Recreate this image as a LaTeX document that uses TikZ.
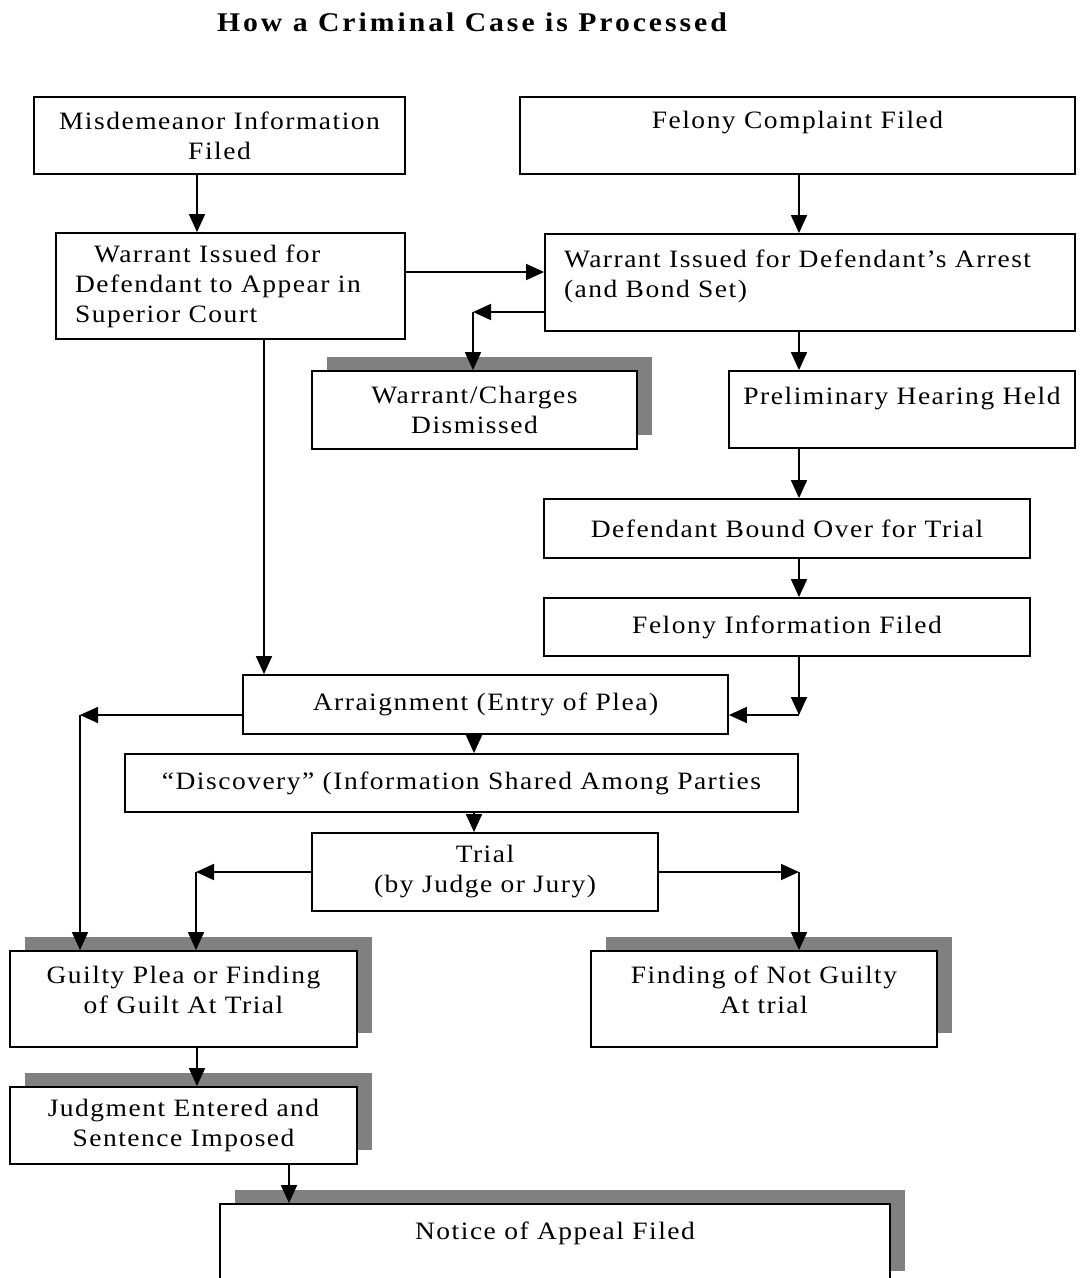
\documentclass[tikz,border=0pt]{standalone}
\usepackage{fontspec}
\setmainfont{Liberation Serif}[FakeStretch=1.1,LetterSpace=6]
\usetikzlibrary{arrows.meta,shadows}

\begin{document}
\begin{tikzpicture}[x=1pt,y=-1pt,
    box/.style={draw,line width=1.8pt,fill=white,align=center,inner sep=0pt,
      font=\fontsize{25}{30}\selectfont},
    shbox/.style={box,drop shadow={shadow xshift=15pt,shadow yshift=14pt,
      fill=black!50,opacity=1}},
    arr/.style={line width=1.7pt,-{Triangle[length=18pt,width=16pt]}}]
      \useasboundingbox (0,0) rectangle (1092,1278);
      \clip (0,0) rectangle (1092,1278);
%
      \node (ttl) at (472,22) {\bfseries\fontsize{27}{32}\selectfont\addfontfeature{LetterSpace=11}How a Criminal Case is Processed};
%
      \node[box,minimum width=371pt,minimum height=77pt] (mif) at (219.5,135.5) {Misdemeanor Information\\Filed};
      \node[box,minimum width=555pt,minimum height=77pt,text height=16pt,text depth=30pt] (fcf) at (797.5,135.5) {Felony Complaint Filed};
      \node[box,minimum width=349pt,minimum height=106pt,text width=311pt,align=left] (wda) at (230.5,286) {\hspace*{19pt}Warrant Issued for\\Defendant to Appear in\\Superior Court};
      \node[box,minimum width=530pt,minimum height=97pt,text width=492pt,align=left,text depth=48pt] (wia) at (810,282.5) {Warrant Issued for Defendant’s Arrest\\(and Bond Set)};
      \node[shbox,minimum width=325pt,minimum height=78pt] (wcd) at (474.5,410) {Warrant/Charges\\Dismissed};
      \node[box,minimum width=346pt,minimum height=77pt,text height=16pt,text depth=27pt] (phh) at (902,409.5) {Preliminary Hearing Held};
      \node[box,minimum width=486pt,minimum height=59pt] (dbt) at (787,528.5) {Defendant Bound Over for Trial};
      \node[box,minimum width=486pt,minimum height=58pt] (fif) at (787,627) {Felony Information Filed};
      \node[box,minimum width=485pt,minimum height=59pt] (arg) at (485.5,704.5) {Arraignment (Entry of Plea)};
      \node[box,minimum width=673pt,minimum height=58pt] (dsc) at (461.5,783) {“Discovery” (Information Shared Among Parties};
      \node[box,minimum width=346pt,minimum height=78pt] (trl) at (485,872) {Trial\\(by Judge or Jury)};
      \node[shbox,minimum width=347pt,minimum height=96pt,text depth=18pt] (gpf) at (183.5,999) {Guilty Plea or Finding\\of Guilt At Trial};
      \node[shbox,minimum width=346pt,minimum height=96pt,text depth=18pt] (ngf) at (764,999) {Finding of Not Guilty\\At trial};
      \node[shbox,minimum width=347pt,minimum height=77pt] (jes) at (183.5,1125.5) {Judgment Entered and\\Sentence Imposed};
      \node[shbox,minimum width=670pt,minimum height=81pt,text height=16pt,text depth=27pt] (nap) at (555,1244.5) {Notice of Appeal Filed};
%
      \coordinate (k1) at (197,0);%%
      \coordinate (k2) at (799,0);%%
      \coordinate (k3) at (264,0);%%
      \coordinate (k4) at (474,0);%%
      \coordinate (k5) at (289,0);%%
      \coordinate (k6) at (0,272);%%
      \coordinate (c1) at (473,312);%%
      \coordinate (c2) at (799,715);%%
      \coordinate (c3) at (80,715);%%
      \coordinate (c4) at (196,872);%%
      \coordinate (c5) at (799,872);%%
%
      \draw[arr] (mif.south -| k1) -- (wda.north -| k1);
      \draw[arr] (fcf.south -| k2) -- (wia.north -| k2);
      \draw[arr] (wda.east |- k6) -- (wia.west |- k6);
      \draw[arr] (wia.west |- c1) -- (c1);
      \draw[arr] (c1) -- (wcd.north -| c1);
      \draw[arr] (wia.south -| k2) -- (phh.north -| k2);
      \draw[arr] (phh.south -| k2) -- (dbt.north -| k2);
      \draw[arr] (dbt.south -| k2) -- (fif.north -| k2);
      \draw[arr] (fif.south -| k2) -- (c2);
      \draw[arr] (c2) -- (arg.east |- c2);
      \draw[arr] (wda.south -| k3) -- (arg.north -| k3);
      \draw[arr] (arg.west |- c3) -- (c3);
      \draw[arr] (c3) -- (gpf.north -| c3);
      \draw[arr] (arg.south -| k4) -- (dsc.north -| k4);
      \draw[arr] (dsc.south -| k4) -- (trl.north -| k4);
      \draw[arr] (trl.west |- c4) -- (c4);
      \draw[arr] (c4) -- (gpf.north -| c4);
      \draw[arr] (trl.east |- c5) -- (c5);
      \draw[arr] (c5) -- (ngf.north -| c5);
      \draw[arr] (gpf.south -| k1) -- (jes.north -| k1);
      \draw[arr] (jes.south -| k5) -- (nap.north -| k5);
   \end{tikzpicture}
\end{document}
